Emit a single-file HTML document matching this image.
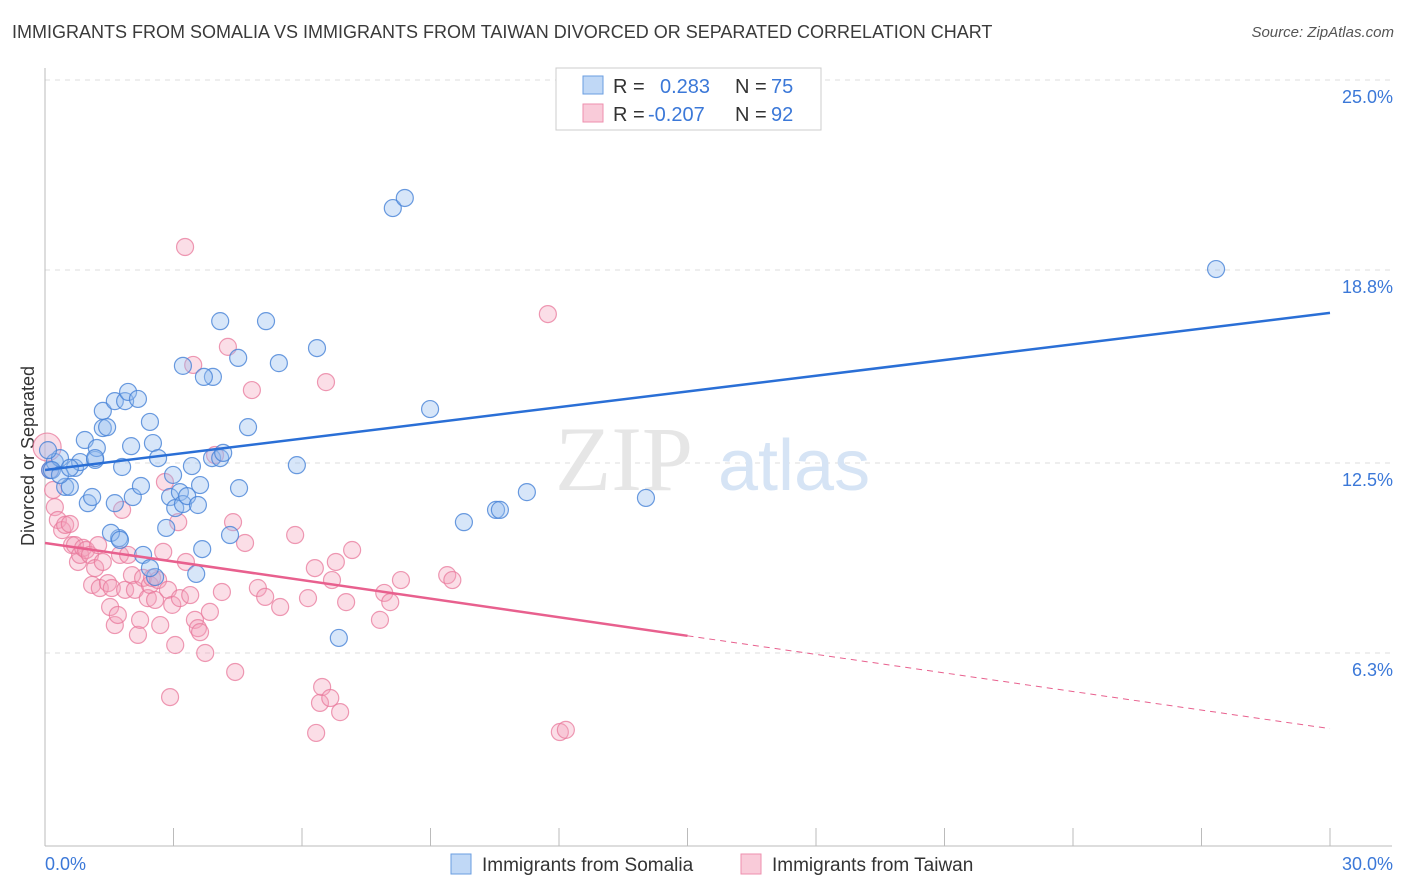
<!DOCTYPE html>
<html><head><meta charset="utf-8">
<style>
body{margin:0;background:#fff;font-family:"Liberation Sans",sans-serif;}
#wrap{position:relative;width:1406px;height:892px;overflow:hidden;}
.title{position:absolute;left:12px;top:22px;font-size:18px;color:#3a3a3a;}
.source{position:absolute;right:12px;top:24px;font-size:15px;color:#555;font-style:italic;}
</style></head>
<body>
<div id="wrap">
<div class="title">IMMIGRANTS FROM SOMALIA VS IMMIGRANTS FROM TAIWAN DIVORCED OR SEPARATED CORRELATION CHART</div>
<div class="source">Source: ZipAtlas.com</div>
<svg id="chart" width="1406" height="892" style="position:absolute;left:0;top:0"></svg>
</div>
<script>
const blueX=[0.12,0.23,0.35,0.47,0.58,0.70,0.82,0.93,1.00,1.10,1.17,1.21,1.35,1.35,1.45,1.63,1.63,1.80,1.87,1.94,2.01,2.05,2.17,2.24,2.45,2.52,2.64,2.83,2.92,2.99,3.04,3.15,3.22,3.32,3.43,3.53,3.57,3.62,3.67,3.90,3.92,4.09,4.16,4.09,4.51,4.53,4.74,5.16,5.46,5.88,6.35,6.86,8.12,8.40,8.99,9.78,10.53,10.62,11.25,14.03,27.34,3.22,3.71,2.29,2.57,1.73,1.54,2.45,4.32,0.07,0.16,0.35,0.58,1.17,1.75];
const blueY=[12.27,12.53,12.66,11.72,11.72,12.34,12.53,13.25,11.19,11.39,12.60,12.99,13.64,14.20,13.67,14.52,11.19,12.37,14.52,14.82,13.05,11.39,14.59,11.75,13.84,13.15,12.66,10.38,11.39,12.11,11.03,11.55,11.16,11.42,12.40,8.88,11.13,11.78,9.69,12.66,15.31,12.66,12.83,17.13,15.93,11.68,13.67,17.13,15.76,12.43,16.25,6.79,20.82,21.15,14.26,10.57,10.97,10.97,11.55,11.36,18.83,15.67,15.31,9.50,8.78,10.05,10.22,9.07,10.15,12.92,12.27,12.11,12.34,12.66,9.99];
const pinkX=[0.05,0.12,0.19,0.23,0.30,0.40,0.47,0.58,0.63,0.70,0.77,0.82,0.89,0.96,1.05,1.10,1.17,1.24,1.28,1.35,1.47,1.52,1.56,1.63,1.70,1.75,1.80,1.87,1.94,2.03,2.10,2.17,2.22,2.29,2.40,2.45,2.50,2.57,2.64,2.69,2.76,2.80,2.87,2.92,2.97,3.04,3.11,3.15,3.27,3.29,3.39,3.46,3.50,3.57,3.62,3.74,3.85,3.97,4.13,4.27,4.39,4.44,4.67,4.83,4.97,5.14,5.49,5.84,6.14,6.30,6.33,6.42,6.47,6.56,6.66,6.70,6.79,6.89,7.03,7.17,7.82,7.92,8.06,8.31,9.39,9.51,11.74,12.02,12.16];
const pinkY=[13.02,12.27,11.62,11.06,10.64,10.31,10.48,10.51,9.82,9.82,9.27,9.50,9.73,9.66,9.50,8.52,9.07,9.82,8.42,9.27,8.58,7.80,8.42,7.21,7.54,9.50,10.97,8.36,9.50,8.84,8.36,6.89,7.38,8.75,8.09,8.52,8.75,8.03,8.68,7.21,9.60,11.88,8.36,4.86,7.87,6.56,10.57,8.09,19.55,9.27,8.19,15.70,7.38,7.11,6.98,6.30,7.64,12.76,8.29,16.29,10.57,5.68,9.89,14.88,8.42,8.13,7.80,10.15,8.09,9.07,3.69,4.67,5.19,15.14,4.83,8.68,9.27,4.37,7.96,9.66,7.38,8.26,7.96,8.68,8.84,8.68,17.36,3.72,3.79];
const blueLine=[12.27,0.171];
const pinkLine=[9.89,-0.202];
const yTicks=[25.0,18.8,12.5,6.3];
const yTickLabels=["25.0%","18.8%","12.5%","6.3%"];
const xTicks=[0,3,6,9,12,15,18,21,24,27,30];

const svg=document.getElementById('chart');
const NS='http://www.w3.org/2000/svg';
const X0=45,X1=1330,Y0=846,PXY=30.64;
const sx=v=>X0+(X1-X0)*v/30;
const sy=v=>Y0-v*PXY;
function mk(t,a,p){const e=document.createElementNS(NS,t);for(const k in a)e.setAttribute(k,a[k]);(p||svg).appendChild(e);return e;}

// gridlines
yTicks.forEach((t,i)=>{
  const g=mk('line',{x1:X0,x2:1392,y1:sy(t),y2:sy(t),stroke:'#dcdcdc','stroke-dasharray':'5,5'});
  
  
  const l=mk('text',{x:1393,y:sy(t)+23,'text-anchor':'end','font-size':18,fill:'#3b78d8','font-family':'Liberation Sans'});
  l.textContent=yTickLabels[i];
  
  
});
const topg=mk('line',{x1:X0,x2:1392,y1:80,y2:80,stroke:'#dcdcdc','stroke-dasharray':'5,5'});


// axes
const ya=mk('line',{x1:X0,x2:X0,y1:68,y2:Y0,stroke:'#bbb'});


const xa=mk('line',{x1:X0,x2:1392,y1:Y0,y2:Y0,stroke:'#bbb'});


xTicks.forEach(t=>{
  const tk=mk('line',{x1:sx(t),x2:sx(t),y1:Y0,y2:Y0-18,stroke:'#bbb'});
  
  
});
const xl0=mk('text',{x:45,y:870,'font-size':18,fill:'#3b78d8'});xl0.textContent='0.0%';


const xl1=mk('text',{x:1393,y:870,'font-size':18,fill:'#3b78d8','text-anchor':'end'});xl1.textContent='30.0%';


const yt=mk('text',{x:34,y:456,'font-size':18,fill:'#333','text-anchor':'middle',transform:'rotate(-90 34 456)'});yt.textContent='Divorced or Separated';


// watermark
const wm=mk('text',{x:555,y:490,'font-size':92,fill:'#e6e6e6','font-family':'Liberation Serif'});wm.textContent='ZIP';


const wm2=mk('text',{x:718,y:490,'font-size':72,fill:'#d6e4f5'});wm2.textContent='atlas';



// points
pinkX.forEach((x,i)=>{
  const c=mk('circle',{cx:sx(x),cy:sy(pinkY[i]),r:i===0?14:8.5,fill:'rgba(244,160,186,0.35)',stroke:'rgba(232,120,155,0.75)','stroke-width':1.2});
  
  
});
blueX.forEach((x,i)=>{
  const c=mk('circle',{cx:sx(x),cy:sy(blueY[i]),r:8.5,fill:'rgba(150,190,240,0.38)',stroke:'rgba(70,130,215,0.8)','stroke-width':1.2});
  
  
});
// trend lines
const bl=mk('line',{x1:sx(0),y1:sy(blueLine[0]),x2:sx(30),y2:sy(blueLine[0]+blueLine[1]*30),stroke:'#2a6fd6','stroke-width':2.5});


const pl=mk('line',{x1:sx(0),y1:sy(pinkLine[0]),x2:sx(15),y2:sy(pinkLine[0]+pinkLine[1]*15),stroke:'#e8608e','stroke-width':2.5});


const pd=mk('line',{x1:sx(15),y1:sy(pinkLine[0]+pinkLine[1]*15),x2:sx(30),y2:sy(pinkLine[0]+pinkLine[1]*30),stroke:'#e8608e','stroke-width':1,'stroke-dasharray':'6,5'});



// top legend
const lg=mk('g',{});


mk('rect',{x:556,y:68,width:265,height:62,fill:'#fff',stroke:'#ccc'},lg);
mk('rect',{x:583,y:76,width:20,height:18,fill:'rgba(150,190,240,0.6)',stroke:'#6a9ee0'},lg);
mk('rect',{x:583,y:104,width:20,height:18,fill:'rgba(244,160,186,0.55)',stroke:'#ee8fae'},lg);
function lt(x,y,s,c){const t=mk('text',{x:x,y:y,'font-size':20,fill:c},lg);t.textContent=s;}
lt(613,93,'R =','#333');lt(660,93,'0.283','#3b78d8');lt(735,93,'N =','#333');lt(771,93,'75','#3b78d8');
lt(613,121,'R =','#333');lt(648,121,'-0.207','#3b78d8');lt(735,121,'N =','#333');lt(771,121,'92','#3b78d8');

// bottom legend
const bg=mk('g',{});


mk('rect',{x:451,y:854,width:20,height:20,fill:'rgba(150,190,240,0.6)',stroke:'#6a9ee0'},bg);
mk('rect',{x:741,y:854,width:20,height:20,fill:'rgba(244,160,186,0.55)',stroke:'#ee8fae'},bg);
const b1=mk('text',{x:482,y:871,'font-size':19,fill:'#333'},bg);b1.textContent='Immigrants from Somalia';


const b2=mk('text',{x:772,y:871,'font-size':19,fill:'#333'},bg);b2.textContent='Immigrants from Taiwan';


</script>
</body></html>
